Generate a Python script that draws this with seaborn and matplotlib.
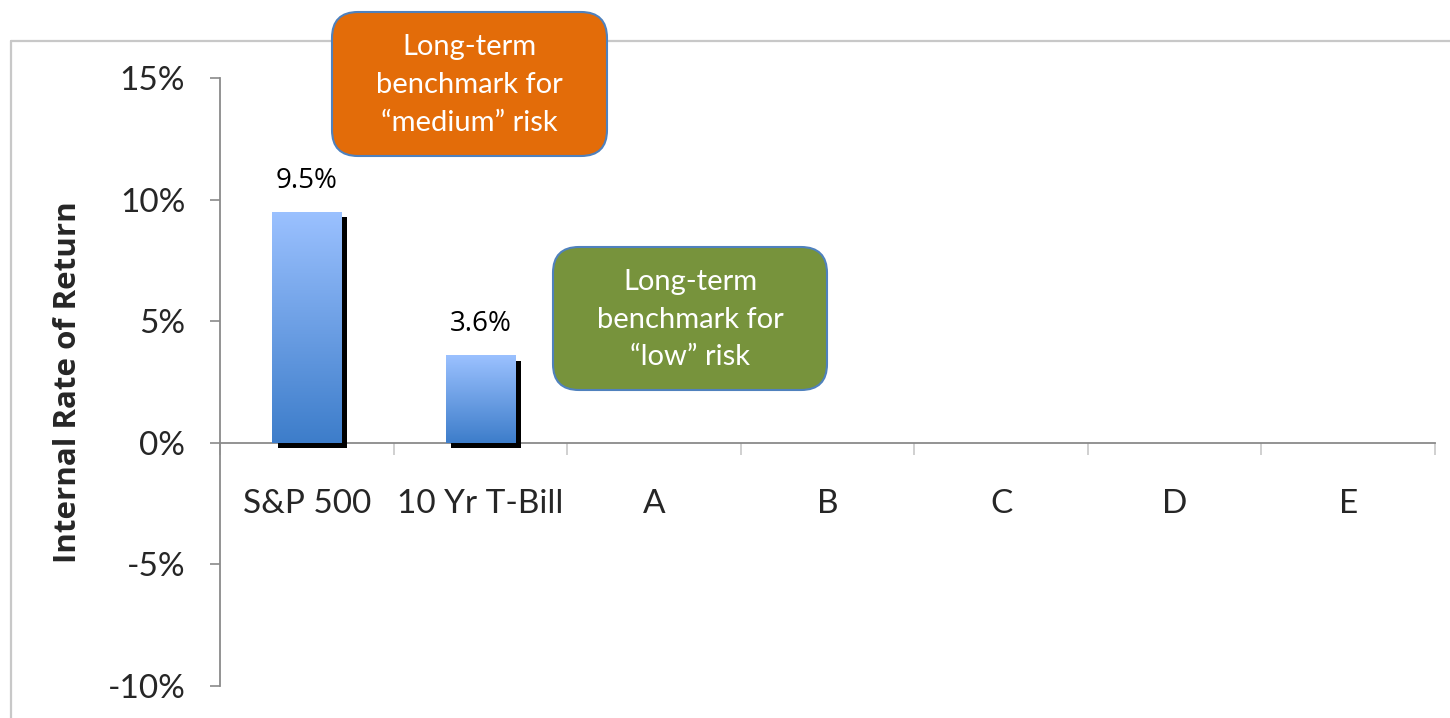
import numpy as np
import pandas as pd
import matplotlib
matplotlib.use('Agg')
import matplotlib.pyplot as plt
import matplotlib.patheffects as pe
from matplotlib.patches import FancyBboxPatch
from matplotlib.lines import Line2D
from matplotlib.colors import LinearSegmentedColormap
import seaborn as sns

categories = ['S&P 500', '10 Yr T-Bill', 'A', 'B', 'C', 'D', 'E']
irr = [9.5, 3.6, np.nan, np.nan, np.nan, np.nan, np.nan]
bar_labels = ['9.5%', '3.6%']
y_ticks = [-10, -5, 0, 5, 10, 15]
medium_text = 'Long-term\nbenchmark for\n\u201cmedium\u201d risk'
low_text = 'Long-term\nbenchmark for\n\u201clow\u201d risk'

df = pd.DataFrame({'cat': categories, 'irr': irr})

sns.set_style('white')
plt.rcParams['font.family'] = ['Lato', 'DejaVu Sans']

fig = plt.figure(figsize=(14.5, 7.18), dpi=100)
ax = fig.add_axes([220 / 1450, 32 / 718, 1215 / 1450, 608 / 718])

sns.barplot(data=df, x='cat', y='irr', order=categories, width=0.4,
            color='#6fa0e6', ax=ax, zorder=3, linewidth=0)
ax.set_xlim(-0.5, len(categories) - 0.5)
ax.set_ylim(-10, 15)

# gradient fill and drop shadow on each bar
cmap = LinearSegmentedColormap.from_list('bar', ['#3d7dca', '#9bc1ff'])
grad = np.linspace(0, 1, 256).reshape(-1, 1)
for p in ax.patches:
    h = p.get_height()
    if np.isnan(h) or h == 0:
        continue
    p.set_path_effects([pe.SimplePatchShadow(offset=(4, -4), shadow_rgbFace='black', alpha=1.0),
                        pe.Normal()])
    x0 = p.get_x()
    w = p.get_width()
    im = ax.imshow(grad, cmap=cmap, origin='lower', aspect='auto',
                   extent=[x0, x0 + w, 0, h], zorder=4)
    im.set_clip_path(p)

for p, lab in zip(ax.patches, bar_labels):
    ax.text(p.get_x() + p.get_width() / 2, p.get_height() + 0.7, lab,
            ha='center', va='bottom', fontsize=20, family=['Open Sans', 'DejaVu Sans'],
            color='black', zorder=5)

ax.set_xlim(-0.5, len(categories) - 0.5)
ax.set_ylim(-10, 15)

axis_col = '#8a8a8a'
for s in ['top', 'right']:
    ax.spines[s].set_visible(False)
ax.spines['left'].set_color(axis_col)
ax.spines['left'].set_linewidth(1.3)
ax.spines['bottom'].set_position(('data', 0))
ax.spines['bottom'].set_color(axis_col)
ax.spines['bottom'].set_linewidth(1.3)
ax.spines['bottom'].set_zorder(2)

ax.set_yticks(y_ticks)
ax.set_yticklabels([f'{v}%' for v in y_ticks])
ax.tick_params(axis='y', direction='out', length=7, width=1.2, color=axis_col,
               pad=18, labelsize=24, left=True)
ax.set_xticks(range(len(categories)))
ax.set_xticklabels(categories)
ax.tick_params(axis='x', which='major', length=0, pad=33, labelsize=24)
ax.set_xticks(np.arange(-0.5, len(categories), 1.0), minor=True)
ax.tick_params(axis='x', which='minor', direction='out', length=8.5, width=1.2,
               color='#c8c8c8', bottom=True)
ax.set_xlabel('')
ax.set_ylabel('')

fig.text(68 / 1450, 336 / 718, 'Internal Rate of Return', rotation=90,
         ha='center', va='center', fontsize=22.5, fontweight='bold',
         family=['Open Sans', 'DejaVu Sans'])

# outer chart frame
tr = fig.dpi_scale_trans
fig.add_artist(Line2D([0.11, 14.5], [6.77, 6.77], transform=tr, color='#c8c8c8', lw=1.6, zorder=1))
fig.add_artist(Line2D([0.11, 0.11], [0, 6.77], transform=tr, color='#c8c8c8', lw=1.6, zorder=1))

# callout boxes
for (x0, y0, w, h, fc, txt) in [(3.32, 5.62, 2.75, 1.44, '#e36c09', medium_text),
                                 (5.53, 3.28, 2.74, 1.43, '#77933c', low_text)]:
    box = FancyBboxPatch((x0, y0), w, h, boxstyle='round,pad=0,rounding_size=0.26',
                         transform=tr, facecolor=fc, edgecolor='#4f81bd', lw=1.5, zorder=6)
    fig.add_artist(box)
    fig.text(x0 + w / 2, y0 + h / 2 - 0.01, txt, transform=tr, ha='center', va='center',
             color='white', fontsize=21, linespacing=1.55, zorder=7)

plt.savefig('out.png', dpi=100)
